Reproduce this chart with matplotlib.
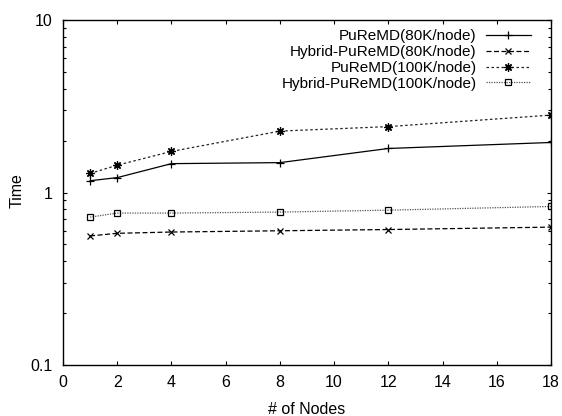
import matplotlib
matplotlib.use('Agg')
import matplotlib.pyplot as plt
from matplotlib.ticker import FixedLocator, LogLocator, NullFormatter

plt.rcParams['font.family'] = ['Liberation Sans', 'DejaVu Sans']

nodes = [1, 2, 4, 8, 12, 18]
puremd_80k = [1.17, 1.22, 1.47, 1.49, 1.80, 1.95]
hybrid_80k = [0.56, 0.58, 0.59, 0.60, 0.61, 0.63]
puremd_100k = [1.29, 1.44, 1.73, 2.27, 2.41, 2.81]
hybrid_100k = [0.72, 0.76, 0.76, 0.77, 0.79, 0.83]

fig = plt.figure(figsize=(5.62, 4.16), dpi=100)
ax = fig.add_axes([0.1121, 0.1226, 0.8683, 0.8293])

ax.plot(nodes, puremd_80k, color='black', lw=0.9, ls='-', marker='+', ms=6,
        mew=0.9, label='PuReMD(80K/node)')
ax.plot(nodes, hybrid_80k, color='black', lw=0.9, ls=(0, (4, 2)), marker='x', ms=4.5,
        mew=0.9, label='Hybrid-PuReMD(80K/node)')
ax.plot(nodes, puremd_100k, color='#222222', lw=0.9, ls=(0, (2, 2)), marker=(8, 2, 0), ms=6,
        mew=0.9, mec='black', label='PuReMD(100K/node)')
ax.plot(nodes, hybrid_100k, color='#555555', lw=0.9, ls=(0, (1, 1)), marker='s', ms=5,
        mew=0.9, mfc='none', mec='black', label='Hybrid-PuReMD(100K/node)')

ax.set_yscale('log')
ax.set_ylim(0.1, 10)
ax.set_xlim(0, 18)
ax.xaxis.set_major_locator(FixedLocator(list(range(0, 19, 2))))
ax.yaxis.set_major_locator(FixedLocator([0.1, 1, 10]))
ax.set_yticklabels(['0.1', '1', '10'])
ax.yaxis.set_minor_locator(LogLocator(base=10, subs=range(2, 10)))
ax.yaxis.set_minor_formatter(NullFormatter())

ax.tick_params(which='both', direction='in', top=True, right=True, labelsize=11.5, width=0.8)
ax.tick_params(which='major', length=3.2)
ax.tick_params(which='minor', length=2.4)
ax.tick_params(axis='x', which='major', pad=7)
ax.tick_params(axis='y', which='major', pad=7.5)
for s in ax.spines.values():
    s.set_linewidth(1.0)

ax.set_xlabel('# of Nodes', fontsize=11.5)
ax.set_ylabel('Time', fontsize=11.5)
ax.xaxis.set_label_coords(0.5, -0.107)
ax.yaxis.set_label_coords(-0.078, 0.505)

ax.legend(loc='upper right', bbox_to_anchor=(0.959, 0.973), frameon=False,
          markerfirst=False, fontsize=11, handlelength=2.95, labelspacing=0.12,
          numpoints=1, borderaxespad=0, borderpad=0, handletextpad=0.6)

fig.savefig('out.png', dpi=100)
